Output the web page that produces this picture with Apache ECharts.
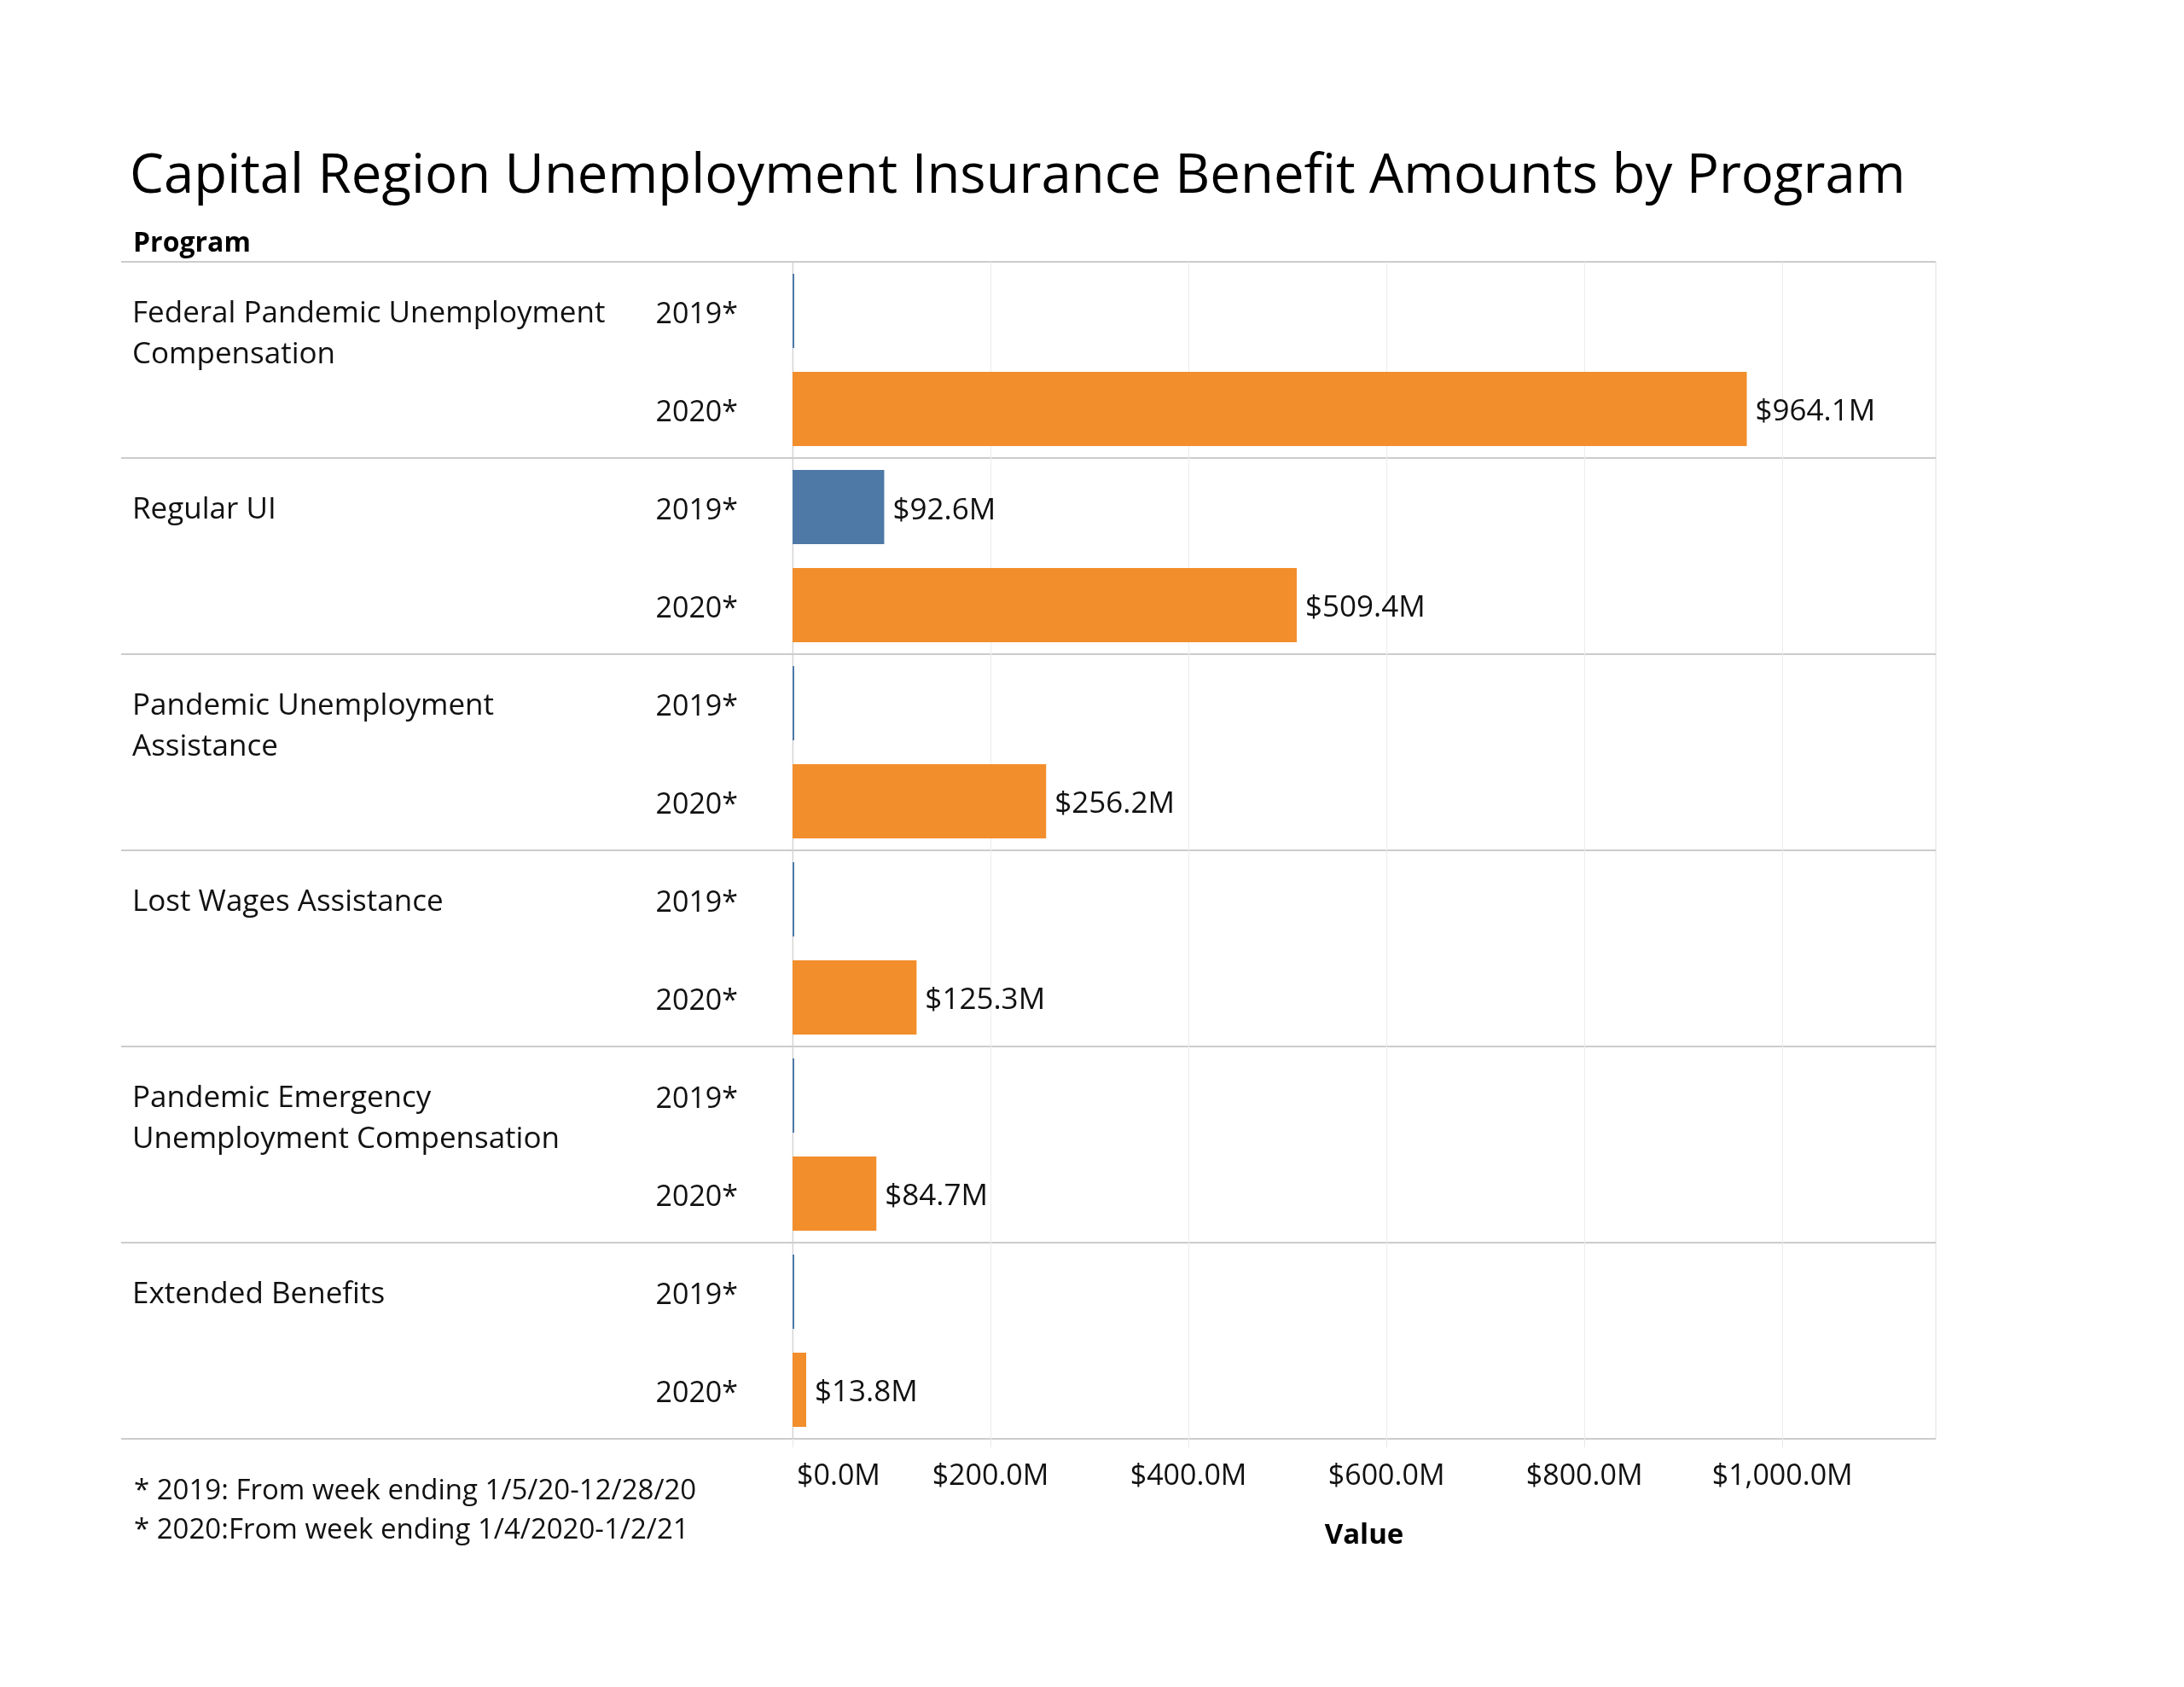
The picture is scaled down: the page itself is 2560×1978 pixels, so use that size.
<!DOCTYPE html>
<html><head><meta charset="utf-8">
<script src="https://cdn.jsdelivr.net/npm/echarts@6/dist/echarts.min.js"></script>
<style>html,body{margin:0;padding:0;background:#fff}#c{width:2560px;height:1978px}</style>
</head><body><div id="c"></div>
<script>
const chartTitle = 'Capital Region Unemployment Insurance Benefit Amounts by Program';
const programs = [
  'Federal Pandemic Unemployment Compensation',
  'Regular UI',
  'Pandemic Unemployment Assistance',
  'Lost Wages Assistance',
  'Pandemic Emergency Unemployment Compensation',
  'Extended Benefits'
];
const years = ['2019*', '2020*'];
const values2019 = [0, 92.6, 0, 0, 0, 0];
const values2020 = [964.1, 509.4, 256.2, 125.3, 84.7, 13.8];
const xTickStep = 200;
const xMax = 1155;
const footnotes = ['* 2019: From week ending 1/5/20-12/28/20', '* 2020:From week ending 1/4/2020-1/2/21'];

const FONT = 'Open Sans';
const TXT = '#111';
const PROG_SIZE = 35;
const PROG_WRAP = 575;

function money(v) {
  const parts = v.toFixed(1).split('.');
  parts[0] = parts[0].replace(/\B(?=(\d{3})+(?!\d))/g, ',');
  return '$' + parts.join('.') + 'M';
}

const measureCtx = document.createElement('canvas').getContext('2d');
function wrapText(text, size, maxW) {
  measureCtx.font = size + 'px "' + FONT + '"';
  const words = text.split(' ');
  const lines = [];
  let cur = '';
  words.forEach(w => {
    const test = cur ? cur + ' ' + w : w;
    if (cur && measureCtx.measureText(test).width > maxW) { lines.push(cur); cur = w; }
    else cur = test;
  });
  if (cur) lines.push(cur);
  return lines.join('\n');
}

// quarter-row slots: 4 per program (used to place the row text labels)
const slotCats = [];
programs.forEach((p, i) => { for (let k = 0; k < 4; k++) slotCats.push(i + '|' + k); });

const chart = echarts.init(document.getElementById('c'), null, {renderer: 'canvas'});
chart.setOption({
  animation: false,
  backgroundColor: '#fff',
  textStyle: {fontFamily: FONT},
  title: [
    {text: chartTitle, left: 147, top: 165,
     textStyle: {fontFamily: FONT, fontSize: 63.5, fontWeight: 'normal', color: '#000', lineHeight: 76}},
    {text: 'Program', left: 151, top: 263,
     textStyle: {fontFamily: FONT, fontSize: 32, fontWeight: 'bold', color: '#000', lineHeight: 36}},
    {text: footnotes.join('\n'), left: 152, top: 1721,
     textStyle: {fontFamily: FONT, fontSize: 33, fontWeight: 'normal', color: TXT, lineHeight: 46}}
  ],
  grid: {left: 929, right: 291, top: 307, bottom: 291, containLabel: false,
         show: true, borderColor: '#e3e3e3', borderWidth: 1},
  xAxis: {
    type: 'value', min: 0, max: xMax, interval: xTickStep,
    axisLine: {show: false},
    axisTick: {show: true, length: 10, lineStyle: {color: '#e8e8e8'}},
    splitLine: {show: true, lineStyle: {color: '#ececec', width: 1}},
    axisLabel: {
      fontFamily: FONT, fontSize: 34, color: TXT, margin: 27,
      showMaxLabel: false,
      formatter: v => (v % xTickStep !== 0 ? '' : (v === 0 ? '{first|' + money(v) + '}' : money(v))),
      rich: {first: {fontFamily: FONT, fontSize: 34, color: TXT, padding: [0, 0, 0, 108]}}
    },
    name: 'Value', nameLocation: 'middle', nameGap: 97,
    nameTextStyle: {fontFamily: FONT, fontSize: 33, fontWeight: 'bold', color: '#000'}
  },
  yAxis: [
    {
      type: 'category', data: programs, inverse: true,
      axisLine: {show: true, lineStyle: {color: '#d0d0d0', width: 1}},
      axisTick: {show: true, interval: 0, length: 787, lineStyle: {color: '#cccccc', width: 2}},
      axisLabel: {show: false},
      splitLine: {show: true, interval: 0, lineStyle: {color: '#cccccc', width: 2}}
    },
    {
      type: 'category', data: slotCats, inverse: true, position: 'left',
      axisLine: {show: false}, axisTick: {show: false}, splitLine: {show: false},
      axisLabel: {
        interval: i => i % 2 === 0,
        formatter: v => { const k = +v.split('|')[1]; return k % 2 === 0 ? years[k / 2] : ''; },
        align: 'right', verticalAlign: 'top', margin: 64,
        fontFamily: FONT, fontSize: 34, color: TXT, lineHeight: 48,
        padding: [10, 0, 0, 0]
      }
    },
    {
      type: 'category', data: slotCats, inverse: true, position: 'left',
      axisLine: {show: false}, axisTick: {show: false}, splitLine: {show: false},
      axisLabel: {
        interval: i => i % 4 === 0,
        formatter: v => { const s = v.split('|'); return s[1] === '0' ? wrapText(programs[+s[0]], PROG_SIZE, PROG_WRAP) : ''; },
        align: 'left', verticalAlign: 'top', margin: 774,
        fontFamily: FONT, fontSize: PROG_SIZE, color: TXT, lineHeight: 48,
        padding: [8, 0, 0, 0]
      }
    }
  ],
  series: [
    {
      name: years[0], type: 'bar', yAxisIndex: 0, data: values2019,
      barWidth: 87, barGap: '32%', barMinHeight: 2,
      itemStyle: {color: '#4e79a7'},
      label: {show: true, position: 'right', distance: 10, offset: [0, 4], fontFamily: FONT, fontSize: 35, color: TXT,
              formatter: p => (p.value ? money(p.value) : '')}
    },
    {
      name: years[1], type: 'bar', yAxisIndex: 0, data: values2020,
      barWidth: 87, barGap: '32%', barMinHeight: 2,
      itemStyle: {color: '#f28e2b'},
      label: {show: true, position: 'right', distance: 10, offset: [0, 4], fontFamily: FONT, fontSize: 35, color: TXT,
              formatter: p => (p.value ? money(p.value) : '')}
    }
  ]
});
</script>
</body></html>
